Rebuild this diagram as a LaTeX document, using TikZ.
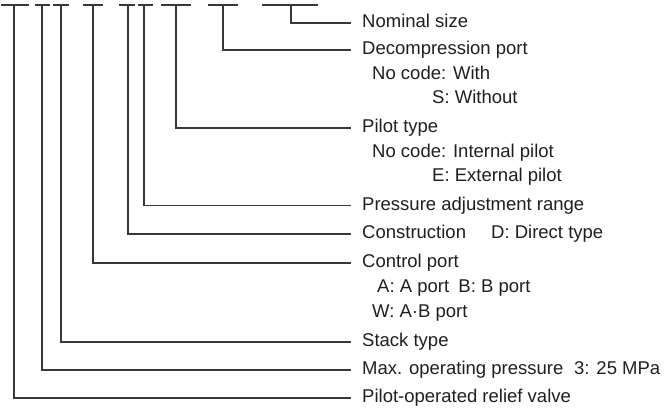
\documentclass[tikz,border=0pt]{standalone}
\usepackage{fontspec}
\setmainfont{Liberation Sans}
\begin{document}
\begin{tikzpicture}[x=1pt,y=-1pt,
  lead/.style={draw=black!78,line width=1.1pt},
  lbl/.style={anchor=base west,inner sep=0pt,font=\fontsize{18.5}{22}\selectfont,text=black!88}]
\useasboundingbox (0,0) rectangle (667,415);
% top code bars
\coordinate (t1) at (14,5);  \draw[lead] (1,5) -- (29,5);
\coordinate (t2) at (42,5);  \draw[lead] (35,5) -- (50,5);
\coordinate (t3) at (61,5);  \draw[lead] (53,5) -- (69,5);
\coordinate (t4) at (93,5);  \draw[lead] (83,5) -- (103,5);
\coordinate (t5) at (128,5); \draw[lead] (119,5) -- (135,5);
\coordinate (t6) at (144,5); \draw[lead] (138,5) -- (153,5);
\coordinate (t7) at (176,5); \draw[lead] (161,5) -- (191,5);
\coordinate (t8) at (223,5); \draw[lead] (208,5) -- (238,5);
\coordinate (t9) at (291,5); \draw[lead] (262,5) -- (318,5);
% line ends
\coordinate (e1) at (351,398);
\coordinate (e2) at (351,370);
\coordinate (e3) at (351,342);
\coordinate (e4) at (351,263);
\coordinate (e5) at (351,234);
\coordinate (e6) at (351,205.5);
\coordinate (e7) at (351,128);
\coordinate (e8) at (351,50);
\coordinate (e9) at (351,23);
% labels
\node[lbl] (l9) at (362,27.5) {Nominal size};
\node[lbl] (l8) at (362,54.5) {Decompression port};
\node[lbl] (l8a) at (372,79.5) {No code: With};
\node[lbl] (l8b) at (432,103.5) {S: Without};
\node[lbl] (l7) at (362,132.5) {Pilot type};
\node[lbl] (l7a) at (372,157.5) {No code: Internal pilot};
\node[lbl] (l7b) at (432,181.5) {E: External pilot};
\node[lbl] (l6) at (362,210) {Pressure adjustment range};
\node[lbl] (l5) at (362,238.5) {Construction};
\node[lbl] (l5a) at (491,238.5) {D: Direct type};
\node[lbl] (l4) at (362,267.5) {Control port};
\node[lbl] (l4a) at (377,292.5) {A: A port\hspace{0.5em}B: B port};
\node[lbl] (l4b) at (372,317.5) {W: A·B port};
\node[lbl] (l3) at (362,346.5) {Stack type};
\node[lbl] (l2) at (362,374.5) {Max. operating pressure};
\node[lbl] (l2a) at (574,374.5) {3: 25 MPa};
\node[lbl] (l1) at (362,402.5) {Pilot-operated relief valve};
% leaders
\draw[lead] (t1) |- (e1);
\draw[lead] (t2) |- (e2);
\draw[lead] (t3) |- (e3);
\draw[lead] (t4) |- (e4);
\draw[lead] (t5) |- (e5);
\draw[lead] (t6) |- (e6);
\draw[lead] (t7) |- (e7);
\draw[lead] (t8) |- (e8);
\draw[lead] (t9) |- (e9);
\end{tikzpicture}
\end{document}
